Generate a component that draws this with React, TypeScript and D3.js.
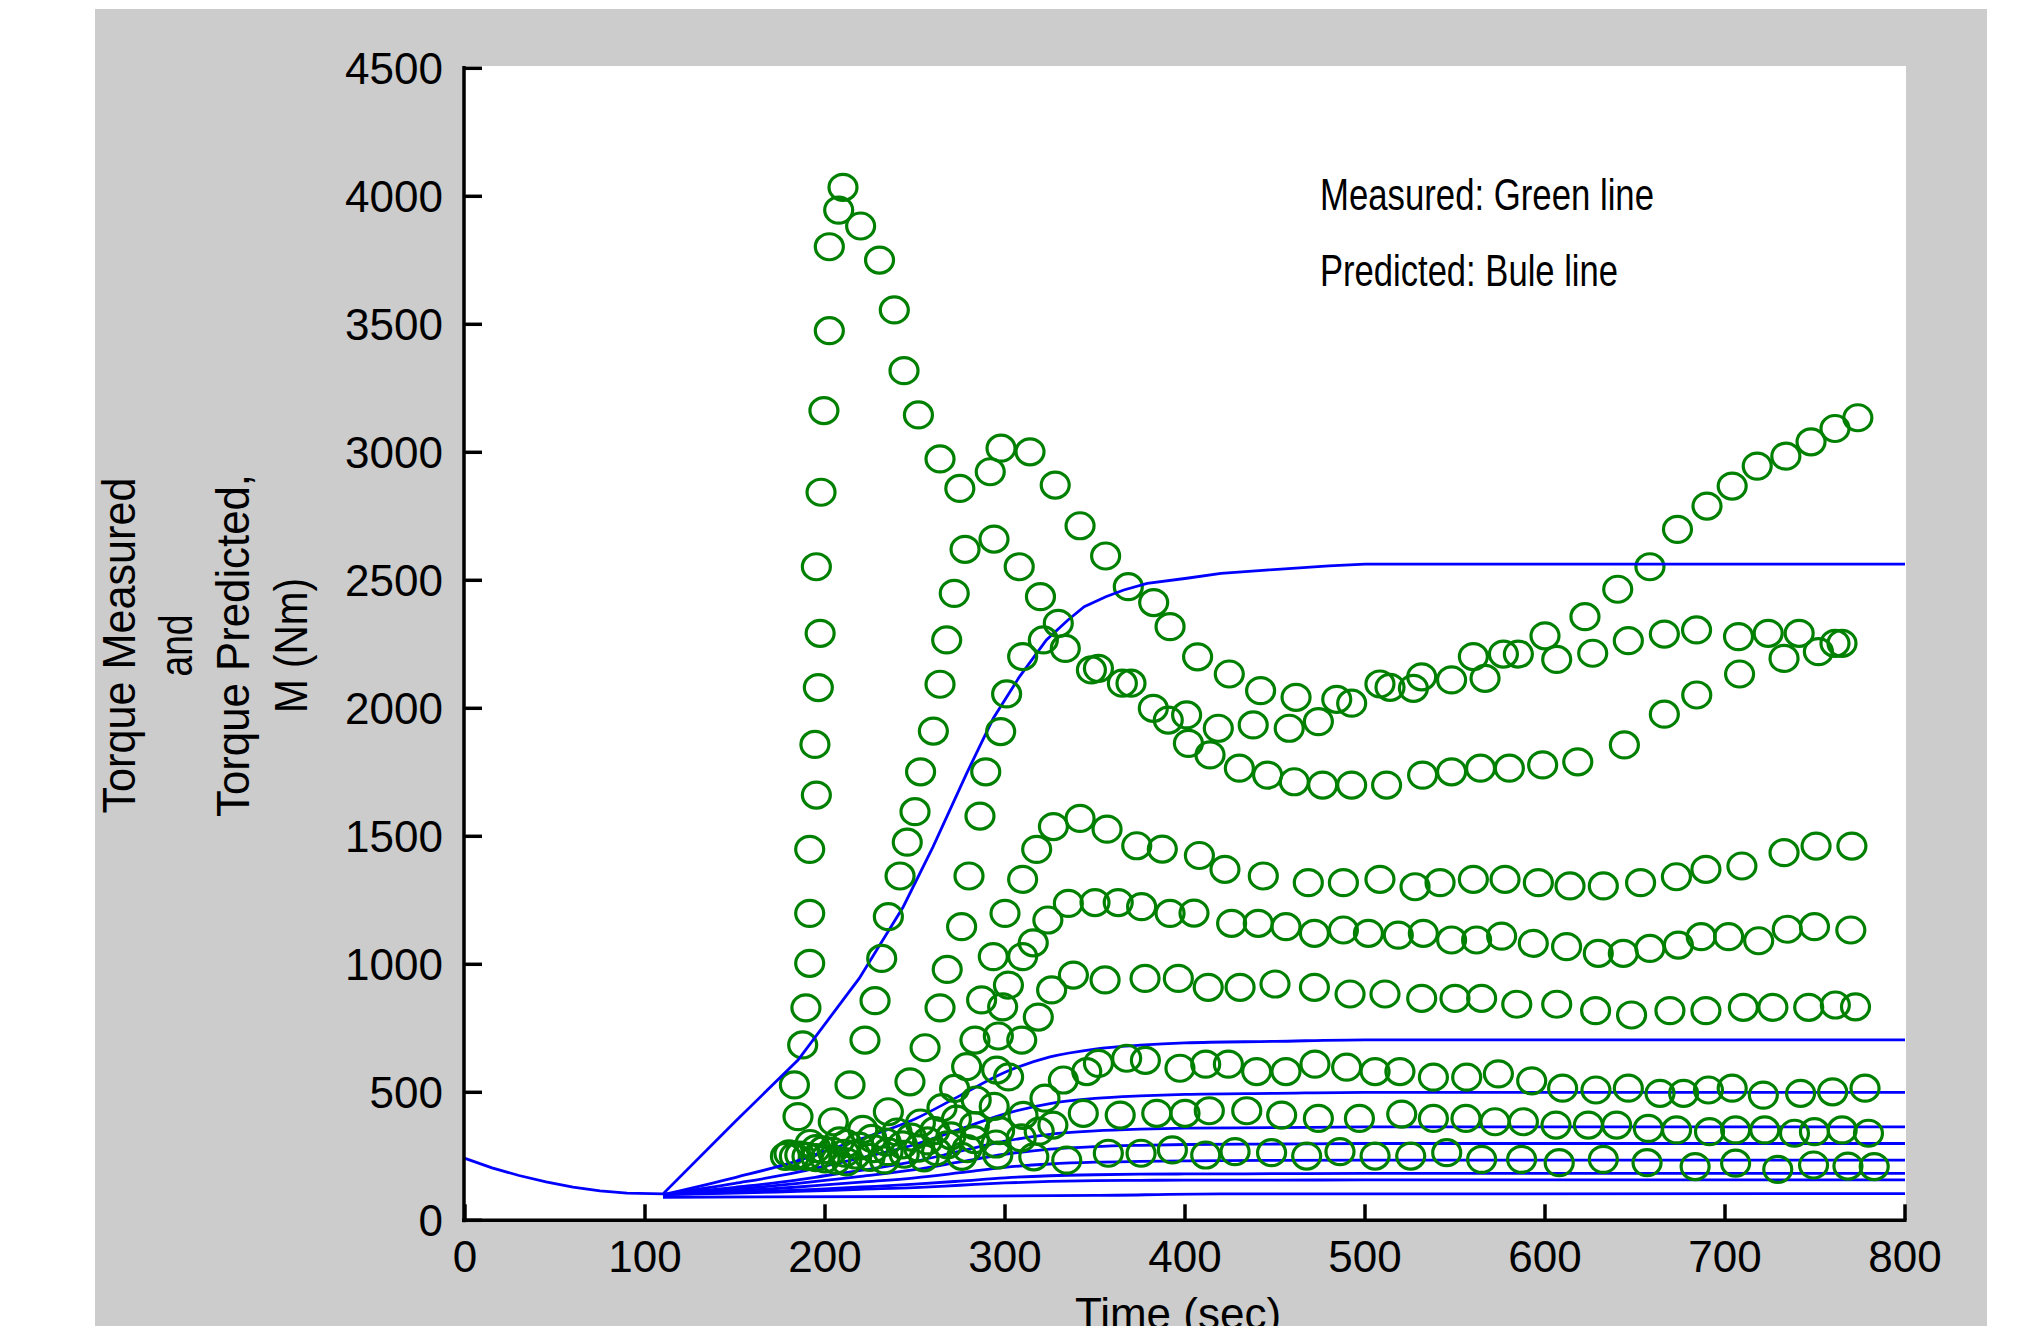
import React, { useEffect, useRef } from "react";
import * as d3 from "d3";

const W = 2019;
const H = 1326;

const xTicks = [0, 100, 200, 300, 400, 500, 600, 700, 800];
const yTicks = [0, 500, 1000, 1500, 2000, 2500, 3000, 3500, 4000, 4500];

const xLabel = "Time (sec)";
const yLabelLines = ["Torque Measured", "and", "Torque Predicted,", "M (Nm)"];
const legendLines = ["Measured: Green line", "Predicted: Bule line"];

// Measured torque (green circles): [time (sec), torque (Nm)]
const measured1: [number, number][] = [
  [178, 250], [185, 405], [183, 529], [187.6, 685], [189.4, 830], [191.5, 1004], [191.5, 1199], [191.5, 1449],
  [195.2, 1661], [194.4, 1859], [196.3, 2081], [197.3, 2293], [195.2, 2553], [197.8, 2844], [199.4, 3163],
  [202.4, 3475], [202.4, 3803], [207.6, 3946], [210, 4035], [219.8, 3884], [230.3, 3751], [238.5, 3556],
  [243.9, 3319], [251.9, 3146], [263.9, 2974], [274.9, 2859], [291.8, 2924], [297.8, 3016], [313.9, 3002],
  [327.9, 2872], [341.7, 2713], [355.9, 2595], [368.5, 2475], [382.6, 2413], [391.7, 2319], [407, 2201],
  [424.6, 2134], [442, 2069], [461.7, 2043], [484.3, 2035], [508.3, 2095], [531.5, 2123], [560.2, 2202],
  [576.9, 2212], [600, 2283], [622.2, 2358], [640.4, 2465], [658.3, 2553], [673.6, 2699], [690, 2790],
  [704, 2868], [717.9, 2946], [733.8, 2985], [747.8, 3041], [761.1, 3093], [773.8, 3135],
];
const measured2: [number, number][] = [
  [180, 260], [191.7, 300], [204.6, 385], [213.9, 529], [222.2, 704], [227.8, 858], [231.5, 1023], [235.2, 1186],
  [241.7, 1345], [245.7, 1477], [250, 1596], [253.1, 1752], [260.2, 1911], [263.9, 2094], [267.6, 2267],
  [271.8, 2449], [277.8, 2621], [293.9, 2661], [307.9, 2553], [319.7, 2436], [329.6, 2332], [348, 2150],
  [365.2, 2098], [382.4, 2000], [400.9, 1974], [418.5, 1922], [437.9, 1935], [457.9, 1922], [474.1, 1948],
  [492.6, 2020], [513.9, 2082], [526.9, 2078], [548.1, 2111], [566.7, 2117], [585.2, 2212], [606.5, 2191],
  [626.5, 2215], [646.3, 2264], [666.3, 2290], [684.2, 2306], [707.5, 2280], [724, 2293], [741.2, 2293],
  [761.1, 2254],
];
const measured3: [number, number][] = [
  [183, 250], [195, 280], [208, 310], [221, 355], [235.2, 424], [247.2, 541], [255.6, 674], [263.9, 830],
  [267.9, 980], [275.9, 1147], [280, 1345], [286.1, 1579], [289.3, 1752], [297.6, 1909], [300.9, 2056],
  [309.8, 2202], [321.3, 2267], [333.5, 2234], [351.9, 2156], [370, 2098], [390.7, 1954], [401.9, 1863],
  [413.9, 1818], [430.2, 1766], [445.9, 1739], [460.7, 1713], [476.5, 1700], [492.6, 1700], [512, 1700],
  [532, 1739], [548.1, 1752], [564.2, 1766], [580.2, 1766], [598.7, 1779], [618.2, 1791], [644.1, 1857],
  [666.3, 1977], [684.3, 2052], [708.1, 2134], [732.8, 2195], [751.9, 2221], [765, 2254],
];
const measured4: [number, number][] = [
  [186, 255], [199, 275], [212, 300], [226, 320], [240, 345], [253, 380], [265, 440], [272, 515], [278.7, 600],
  [283.3, 704], [287, 861], [293.5, 1030], [300, 1199], [309.8, 1332], [317.6, 1449], [326.9, 1538],
  [341.7, 1570], [356.7, 1528], [373.2, 1463], [387.4, 1450], [408, 1425], [422.2, 1371], [443.5, 1345],
  [468.5, 1319], [488, 1319], [508.3, 1332], [527.8, 1303], [541.7, 1319], [560.2, 1332], [577.8, 1332],
  [596.3, 1319], [613.9, 1306], [632.4, 1306], [653.1, 1319], [673, 1342], [689.4, 1371], [709.4, 1384],
  [732.8, 1436], [750.6, 1462], [770.5, 1462],
];
const measured5: [number, number][] = [
  [190, 250], [204, 270], [219, 290], [234, 305], [248, 325], [261, 350], [273, 395], [284, 470], [295.4, 587],
  [296.3, 720], [298.7, 834], [301.9, 919], [309.8, 1030], [315.7, 1084], [323.8, 1173], [335.2, 1238],
  [350, 1241], [362.9, 1241], [375.9, 1225], [391.7, 1199], [405, 1200], [425.9, 1160], [440.7, 1160],
  [456.1, 1147], [471.9, 1121], [488, 1134], [501.9, 1121], [518.5, 1114], [532.4, 1121], [548.1, 1095],
  [562, 1095], [575.9, 1110], [593.5, 1082], [612, 1069], [629.6, 1043], [643.5, 1043], [658.3, 1062],
  [674.1, 1075], [686.8, 1108], [702, 1108], [718.7, 1092], [734.6, 1137], [749.7, 1147], [769.9, 1134],
];
const measured6: [number, number][] = [
  [195, 245], [211, 262], [227, 280], [243, 295], [257, 310], [270, 330], [283, 370], [294, 445], [302, 560],
  [309.3, 704], [318.5, 794], [325.9, 900], [338, 958], [355.6, 939], [377.8, 945], [396.3, 945], [412.9, 910],
  [430.6, 910], [450, 923], [471.9, 910], [491.7, 884], [511.1, 884], [531.5, 867], [550, 867], [564.8, 867],
  [584.3, 844], [606.5, 844], [628.1, 819], [648.1, 802], [669.4, 819], [689.4, 819], [710.2, 832],
  [726.6, 832], [746.5, 832], [761.3, 841], [772.5, 834],
];
const measured7: [number, number][] = [
  [200, 240], [217, 255], [235, 268], [252, 282], [268, 295], [283, 315], [297, 350], [310, 410], [322.2, 477],
  [332.4, 548], [345.4, 581], [351.9, 613], [367.6, 633], [378, 625], [397.2, 594], [411.5, 610], [424.1, 610],
  [439.8, 581], [456.1, 581], [472.2, 610], [489.8, 598], [505.6, 581], [519.4, 581], [538, 559], [556.5, 559],
  [574.1, 572], [592.6, 545], [609.8, 516], [628.3, 509], [646.3, 516], [663.9, 496], [677, 496], [690.8, 509],
  [704, 516], [721.3, 489], [742, 496], [759.8, 502], [777.8, 516],
];
const measured8: [number, number][] = [
  [206, 235], [225, 246], [244, 258], [262, 268], [279, 280], [295, 298], [309, 322], [319, 348], [326.6, 372],
  [343.5, 418], [364, 411], [384.3, 418], [400, 418], [413.5, 428], [434.3, 428], [453.7, 411], [474.1, 398],
  [496.9, 398], [520.4, 415], [538, 398], [556.1, 398], [572.2, 385], [588, 385], [606.1, 372], [624.1, 372],
  [639.8, 372], [657.4, 359], [673.1, 353], [691.4, 346], [705.9, 353], [722.1, 353], [738.6, 340],
  [749.7, 346], [765.1, 353], [779.7, 340],
];
const measured9: [number, number][] = [
  [212, 228], [233, 236], [255, 244], [276, 250], [296, 255], [316, 248], [334.3, 235], [357.4, 262],
  [375.6, 262], [393, 275], [411.5, 255], [427.8, 268], [448.1, 264], [467.6, 251], [486.1, 268], [505.6, 251],
  [525.4, 251], [545.4, 264], [564.8, 238], [587, 238], [607.9, 225], [632.4, 238], [656.7, 225], [683.4, 210],
  [705.9, 223], [729.3, 199], [749.2, 216], [768.3, 212], [782.9, 210],
];

// Predicted torque (blue lines): [time (sec), torque (Nm)]
const predicted1: [number, number][] = [
  [0, 242], [15, 205], [30, 175], [45, 150], [60, 130], [75, 115], [90, 106], [110, 103], [150, 385], [185, 626],
  [219, 945], [243.5, 1225], [260, 1459], [278.7, 1746], [293.5, 1961], [308, 2123], [323, 2267], [335, 2345],
  [344, 2397], [356, 2436], [366, 2462], [379, 2488], [401, 2508], [420, 2527], [445, 2540], [480, 2556],
  [500, 2563], [800, 2563],
];
const predicted2: [number, number][] = [
  [110, 100], [150, 167], [185, 233], [200, 270], [220, 318], [250, 396], [275, 487], [300, 578], [325, 638],
  [350, 669], [375, 684], [400, 693], [450, 699], [500, 705], [800, 705],
];
const predicted3: [number, number][] = [
  [110, 100], [150, 144], [185, 188], [200, 212], [220, 244], [250, 296], [275, 356], [300, 416], [325, 456],
  [350, 476], [375, 486], [400, 492], [450, 496], [500, 500], [800, 500],
];
const predicted4: [number, number][] = [
  [110, 100], [150, 129], [185, 158], [200, 174], [220, 195], [250, 230], [275, 270], [300, 309], [325, 336],
  [350, 349], [375, 356], [400, 360], [450, 362], [500, 365], [800, 365],
];
const predicted5: [number, number][] = [
  [110, 100], [150, 122], [185, 144], [200, 156], [220, 172], [250, 198], [275, 228], [300, 258], [325, 278],
  [350, 288], [375, 293], [400, 296], [450, 298], [500, 300], [800, 300],
];
const predicted6: [number, number][] = [
  [110, 100], [150, 115], [185, 130], [200, 138], [220, 149], [250, 166], [275, 186], [300, 207], [325, 220],
  [350, 227], [375, 230], [400, 232], [450, 234], [500, 235], [800, 235],
];
const predicted7: [number, number][] = [
  [110, 100], [150, 109], [185, 118], [200, 123], [220, 130], [250, 141], [275, 153], [300, 166], [325, 174],
  [350, 178], [375, 180], [400, 181], [450, 182], [500, 183], [800, 183],
];
const predicted8: [number, number][] = [
  [110, 100], [150, 106], [185, 113], [200, 116], [220, 121], [250, 128], [275, 137], [300, 146], [325, 152],
  [350, 155], [375, 156], [400, 157], [450, 157], [500, 158], [800, 158],
];
const predicted9: [number, number][] = [
  [110, 90], [250, 93], [350, 97], [420, 103], [800, 104],
];

const measuredSeries = [measured1, measured2, measured3, measured4, measured5, measured6, measured7, measured8, measured9];
const predictedSeries = [predicted1, predicted2, predicted3, predicted4, predicted5, predicted6, predicted7, predicted8, predicted9];

const GREEN = "#008000";
const BLUE = "#0000ff";
const GRAY = "#cccccc";
const FONT = "'Liberation Sans', Arial, Helvetica, sans-serif";
const NARROW = "'Liberation Sans Narrow', 'Arial Narrow', 'Liberation Sans', Arial, sans-serif";

export default function App() {
  const ref = useRef<SVGSVGElement | null>(null);

  useEffect(() => {
    const svg = d3.select(ref.current);
    svg.selectAll("*").remove();

    const x = d3.scaleLinear().domain([0, 800]).range([465, 1905]);
    const y = d3.scaleLinear().domain([0, 4500]).range([1220.3, 68.3]);

    // figure background
    svg.append("rect").attr("x", 95).attr("y", 9).attr("width", 1892).attr("height", H - 9).attr("fill", GRAY);
    // axes background
    svg.append("rect").attr("x", x(0)).attr("y", 66).attr("width", x(800) - x(0) + 1).attr("height", y(0) - 66).attr("fill", "#fff");

    const plot = svg.append("g");
    const line = d3.line<[number, number]>().x((d) => x(d[0])).y((d) => y(d[1]));
    const smooth = d3.line<[number, number]>().x((d) => x(d[0])).y((d) => y(d[1])).curve(d3.curveMonotoneX);

    measuredSeries.forEach((series, i) => {
      plot.append("g")
        .selectAll("ellipse")
        .data(series)
        .join("ellipse")
        .attr("cx", (d) => x(d[0]))
        .attr("cy", (d) => y(d[1]))
        .attr("rx", 14)
        .attr("ry", 13)
        .attr("fill", "none")
        .attr("stroke", GREEN)
        .attr("stroke-width", 3.2);
      const p = predictedSeries[i];
      plot.append("path")
        .attr("d", (i === 0 ? line : smooth)(p))
        .attr("fill", "none")
        .attr("stroke", BLUE)
        .attr("stroke-width", 2.8);
    });

    // axes
    const axes = svg.append("g").attr("stroke", "#000").attr("fill", "none");
    axes.append("line").attr("x1", x(0) - 1).attr("x2", x(0) - 1).attr("y1", 66).attr("y2", y(0) + 2).attr("stroke-width", 3.5);
    axes.append("line").attr("x1", x(0) - 3).attr("x2", x(800) + 1.5).attr("y1", y(0)).attr("y2", y(0)).attr("stroke-width", 3.5);

    axes.selectAll(".yt")
      .data(yTicks)
      .join("line")
      .attr("x1", x(0))
      .attr("x2", x(0) + 17)
      .attr("y1", (d) => y(d))
      .attr("y2", (d) => y(d))
      .attr("stroke-width", 3.5);
    axes.selectAll(".xt")
      .data(xTicks)
      .join("line")
      .attr("x1", (d) => x(d))
      .attr("x2", (d) => x(d))
      .attr("y1", y(0))
      .attr("y2", y(0) - 16)
      .attr("stroke-width", 3.5);

    const labels = svg.append("g").attr("fill", "#000").attr("font-family", FONT);
    labels.selectAll(".yl")
      .data(yTicks)
      .join("text")
      .attr("x", 443)
      .attr("y", (d) => y(d))
      .attr("dy", "0.36em")
      .attr("text-anchor", "end")
      .attr("font-size", 44)
      .text((d) => String(d));
    labels.selectAll(".xl")
      .data(xTicks)
      .join("text")
      .attr("x", (d) => x(d))
      .attr("y", 1272)
      .attr("text-anchor", "middle")
      .attr("font-size", 44)
      .text((d) => String(d));

    labels.append("text")
      .attr("x", 1178)
      .attr("y", 1329)
      .attr("text-anchor", "middle")
      .attr("font-size", 44)
      .text(xLabel);

    const yLabelX = [135, 191.5, 248.5, 307];
    const yLabelLen = [336, 62, 343, 135];
    yLabelLines.forEach((t, i) => {
      labels.append("text")
        .attr("transform", `translate(${yLabelX[i]},645.5) rotate(-90)`)
        .attr("text-anchor", "middle")
        .attr("font-size", 46)
        .attr("textLength", yLabelLen[i])
        .attr("lengthAdjust", "spacingAndGlyphs")
        .text(t);
    });

    const legendY = [210, 286];
    const legendLen = [334, 298];
    legendLines.forEach((t, i) => {
      labels.append("text")
        .attr("x", 1320)
        .attr("y", legendY[i])
        .attr("font-family", NARROW)
        .attr("font-size", 44)
        .attr("textLength", legendLen[i])
        .attr("lengthAdjust", "spacingAndGlyphs")
        .text(t);
    });
  }, []);

  return (
    <svg
      ref={ref}
      width={W}
      height={H}
      style={{ position: "absolute", left: 0, top: 0, background: "#fff", display: "block" }}
    />
  );
}
